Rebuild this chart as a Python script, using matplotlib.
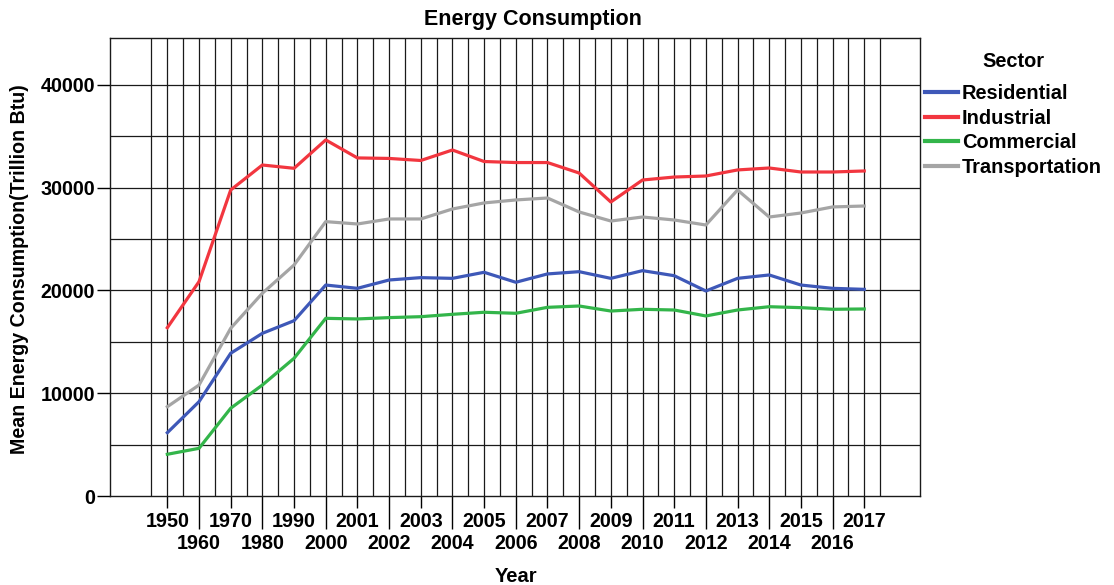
import matplotlib
matplotlib.use("Agg")
import matplotlib.pyplot as plt
import numpy as np

plt.rcParams['font.family'] = ['Liberation Sans', 'DejaVu Sans']
plt.rcParams['font.weight'] = 'bold'

# Categories (x axis)
years = ['1950', '1960', '1970', '1980', '1990', '2000', '2001', '2002', '2003',
         '2004', '2005', '2006', '2007', '2008', '2009', '2010', '2011', '2012',
         '2013', '2014', '2015', '2016', '2017']

# Mean energy consumption per sector (Trillion Btu)
residential = [6160, 9180, 13890, 15830, 17060, 20530, 20210, 21020, 21250,
               21180, 21770, 20800, 21610, 21830, 21180, 21930, 21440, 19950,
               21180, 21510, 20530, 20210, 20110]
industrial = [16380, 20860, 29780, 32210, 31890, 34650, 32900, 32850, 32650,
              33670, 32550, 32450, 32450, 31430, 28610, 30750, 31040, 31140,
              31730, 31920, 31530, 31530, 31630]
commercial = [4060, 4640, 8540, 10800, 13400, 17290, 17230, 17360, 17450,
              17680, 17880, 17780, 18360, 18490, 18000, 18170, 18100, 17520,
              18100, 18420, 18330, 18170, 18200]
transportation = [8690, 10800, 16320, 19730, 22480, 26700, 26470, 26960, 26960,
                  27930, 28520, 28810, 29000, 27640, 26760, 27150, 26860, 26370,
                  29780, 27150, 27540, 28130, 28220]

series = [
    ("Residential", residential, "#3e58b8"),
    ("Industrial", industrial, "#f2363f"),
    ("Commercial", commercial, "#33b54a"),
    ("Transportation", transportation, "#a5a5a5"),
]

fig = plt.figure(figsize=(11.14, 5.85), dpi=100)
ax = fig.add_axes([110 / 1114, 89 / 585, 810 / 1114, 458 / 585])

x = np.arange(len(years))
for name, vals, color in series:
    ax.plot(x, vals, color=color, lw=2.3, label=name, zorder=3,
            solid_joinstyle='round')

xmin, xmax = -1.81, 23.76
ymax = 44570
ax.set_xlim(xmin, xmax)
ax.set_ylim(0, ymax)

# grid: vertical lines every half category, horizontal every 5000
ax.vlines(np.arange(-0.5, len(years), 0.5), 0, ymax, colors='#1a1a1a', lw=0.9, zorder=1)
ax.hlines(np.arange(5000, ymax, 5000), xmin, xmax, colors='#1a1a1a', lw=0.9, zorder=1)

for s in ax.spines.values():
    s.set_color('#1a1a1a')
    s.set_linewidth(1)

# staggered x tick labels
ax.set_xticks(x[::2], years[::2])
ax.set_xticks(x[1::2], years[1::2], minor=True)
ax.tick_params(axis='x', which='major', length=8.6, width=1, pad=3.2, labelsize=14.2)
ax.tick_params(axis='x', which='minor', length=24, width=1, pad=3.2, labelsize=14.2)

ax.set_yticks([0, 10000, 20000, 30000, 40000])
ax.tick_params(axis='y', length=9.4, width=1, pad=1.5, labelsize=14.2)

fig.text(533 / 1114, 1 - 20 / 585, 'Energy Consumption', ha='center', va='center', fontsize=15.5)
fig.text(20 / 1114, 1 - 269 / 585, 'Mean Energy Consumption(Trillion Btu)', rotation=90,
         ha='center', va='center', fontsize=14.1)
fig.text(516 / 1114, 1 - 576 / 585, 'Year', ha='center', va='center', fontsize=14.5)

leg = ax.legend(loc='upper left', bbox_to_anchor=(925 / 1114, 1 - 52 / 585),
                bbox_transform=fig.transFigure, frameon=False, title='Sector',
                fontsize=14.4, title_fontsize=14.4, handlelength=1.65,
                handletextpad=0.2, labelspacing=0.28, borderpad=0, borderaxespad=0)
leg._legend_box.sep = 9.5  # extra room between title and entries
for line in leg.get_lines():
    line.set_linewidth(3)

fig.savefig('out.png', dpi=100)
